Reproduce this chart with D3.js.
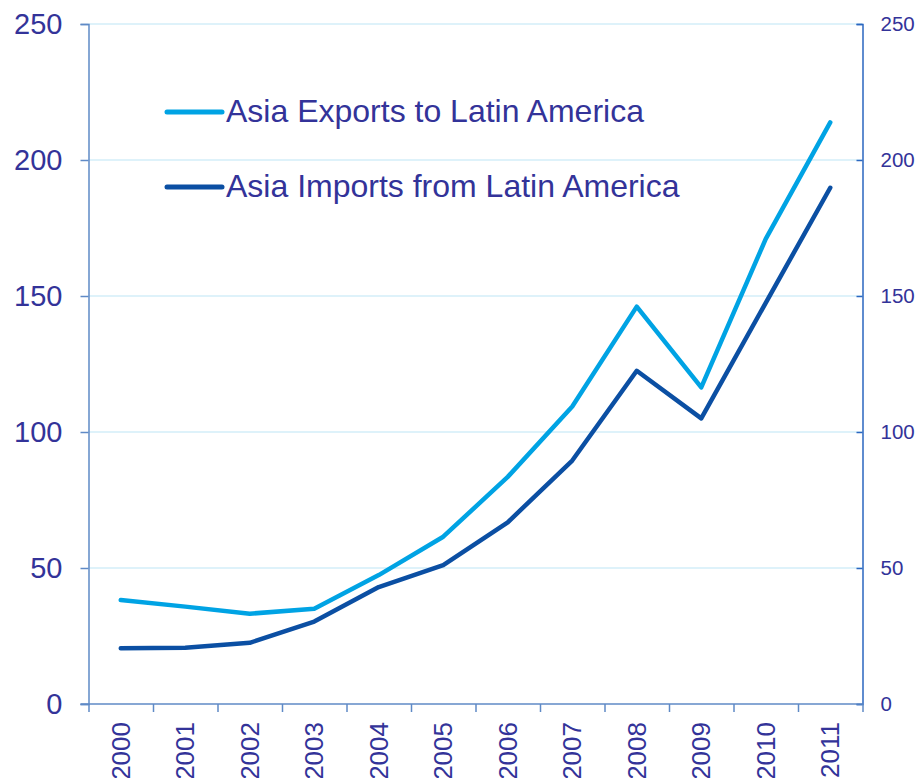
<!DOCTYPE html>
<html>
<head>
<meta charset="utf-8">
<script src="https://cdn.jsdelivr.net/npm/d3@7"></script>
<style>
  body { margin: 0; background: #fff; }
  text { font-family: "Liberation Sans", Arial, sans-serif; fill: #333399; }
</style>
</head>
<body>
<div id="chart"></div>
<script>
// Data
const years = ["2000", "2001", "2002", "2003", "2004", "2005", "2006", "2007", "2008", "2009", "2010", "2011"];
const exportsToLatAm = [38.2, 35.8, 33.2, 35.0, 47.4, 61.5, 83.5, 109.4, 146.1, 116.4, 171.0, 213.8];
const importsFromLatAm = [20.5, 20.7, 22.5, 30.3, 43.0, 51.1, 66.8, 89.5, 122.5, 105.0, 147.5, 189.8];
const yTicks = [0, 50, 100, 150, 200, 250];
const seriesNames = ["Asia Exports to Latin America", "Asia Imports from Latin America"];
const seriesColors = ["#00a3e4", "#0b4fa3"];

const width = 919, height = 778;
const plotLeft = 88.5, plotRight = 862.5, plotTop = 24, plotBottom = 704;

const svg = d3.select("#chart")
  .append("svg")
  .attr("width", width)
  .attr("height", height);

const x = d3.scaleBand().domain(years).range([plotLeft, plotRight]);
const xIdx = d3.scaleLinear().domain([0, years.length]).range([plotLeft, plotRight]);
const y = d3.scaleLinear().domain([0, 250]).range([plotBottom, plotTop]);

// gridlines
svg.append("g")
  .selectAll("line")
  .data(yTicks.filter(d => d > 0))
  .join("line")
  .attr("x1", plotLeft).attr("x2", plotRight)
  .attr("y1", d => y(d)).attr("y2", d => y(d))
  .attr("stroke", "#d3eef9")
  .attr("stroke-width", 1.5);

// left axis
const leftAxis = svg.append("g")
  .attr("transform", `translate(${plotLeft},0)`)
  .call(d3.axisLeft(y).tickValues(yTicks).tickSize(8).tickPadding(18));
leftAxis.select(".domain").attr("stroke", "#5f8ac6").attr("stroke-width", 1.5);
leftAxis.selectAll(".tick line").attr("stroke", "#5f8ac6").attr("stroke-width", 1.5);
leftAxis.selectAll("text").attr("font-size", 29).attr("fill", "#333399");

// right axis
const rightAxis = svg.append("g")
  .attr("transform", `translate(${plotRight},0)`)
  .call(d3.axisRight(y).tickValues(yTicks).tickSize(-6).tickPadding(18));
rightAxis.select(".domain").attr("stroke", "#2b67c0").attr("stroke-width", 1.5);
rightAxis.selectAll(".tick line").attr("stroke", "#2b67c0").attr("stroke-width", 1.5);
rightAxis.selectAll("text").attr("font-size", 20.5).attr("fill", "#333399");

// bottom axis ticks (band boundaries)
const tickAxis = svg.append("g")
  .attr("transform", `translate(0,${plotBottom})`)
  .call(d3.axisBottom(xIdx).ticks(years.length).tickSize(8).tickFormat(""));
tickAxis.select(".domain").remove();
tickAxis.selectAll(".tick line").attr("stroke", "#5f8ac6").attr("stroke-width", 1.5);
svg.append("line")
  .attr("x1", plotLeft - 8).attr("x2", plotRight)
  .attr("y1", plotBottom).attr("y2", plotBottom)
  .attr("stroke", "#5f8ac6").attr("stroke-width", 1.5);

// bottom labels
const labelAxis = svg.append("g")
  .attr("transform", `translate(0,${plotBottom})`)
  .call(d3.axisBottom(x).tickSize(0).tickPadding(0));
labelAxis.select(".domain").remove();
labelAxis.selectAll("text")
  .attr("font-size", 26)
  .attr("fill", "#333399")
  .attr("text-anchor", "end")
  .attr("dy", null)
  .attr("transform", "translate(0,18) rotate(-90)")
  .attr("x", 0).attr("y", 0)
  .attr("dominant-baseline", "central");

// lines
const line = d3.line()
  .x((d, i) => x(years[i]) + x.bandwidth() / 2)
  .y(d => y(d));

[exportsToLatAm, importsFromLatAm].forEach((series, i) => {
  svg.append("path")
    .datum(series)
    .attr("fill", "none")
    .attr("stroke", seriesColors[i])
    .attr("stroke-width", 4.5)
    .attr("stroke-linejoin", "round")
    .attr("stroke-linecap", "round")
    .attr("d", line);
});

// legend
const legend = svg.append("g");
seriesNames.forEach((name, i) => {
  const ly = 112 + i * 75;
  legend.append("line")
    .attr("x1", 167).attr("x2", 222)
    .attr("y1", ly).attr("y2", ly)
    .attr("stroke", seriesColors[i])
    .attr("stroke-width", 5)
    .attr("stroke-linecap", "round");
  legend.append("text")
    .attr("x", 226)
    .attr("y", ly + 10)
    .attr("font-size", 32)
    .text(name);
});
</script>
</body>
</html>
